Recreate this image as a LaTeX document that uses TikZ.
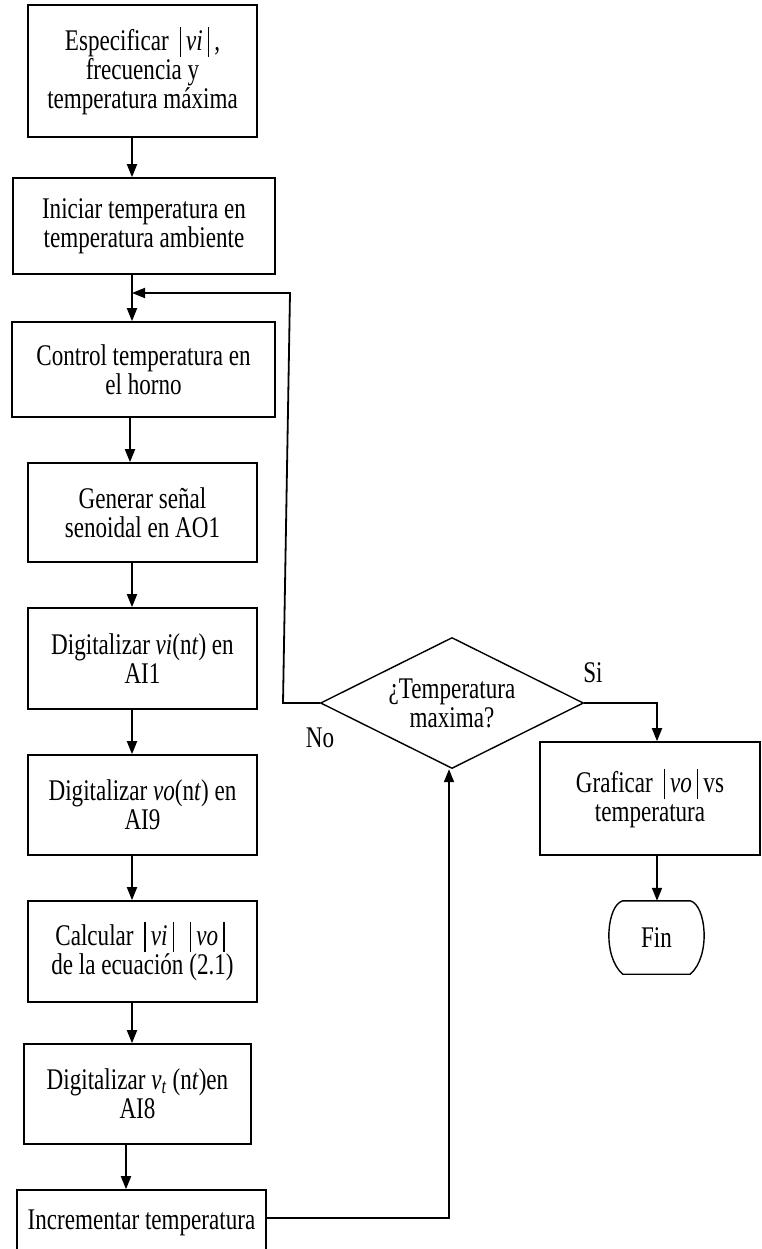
\documentclass[tikz,border=0pt]{standalone}
\usepackage{fontspec}
\setmainfont{Liberation Serif}[FakeStretch=0.77]
\usetikzlibrary{arrows.meta,shapes.geometric}

% absolute-value bars around an italic quantity
\newcommand\absbar{\rule[-0.22em]{0.05em}{1.0em}}
\newcommand\absval[1]{\,\absbar\,\textit{#1}\,\absbar\,}

\tikzset{
  stepbox/.style={draw, line width=1.6pt, inner sep=0pt, align=center},
  flow/.style={line width=1.8pt, -{Triangle[length=13pt,width=10pt]}},
  lbl/.style={inner sep=0pt}
}

\begin{document}
\begin{tikzpicture}[x=1pt, y=-1pt, font=\fontsize{30}{29}\selectfont]
\useasboundingbox (0,0) rectangle (761,1249);

% main column of process steps
\node[stepbox, minimum width=229pt, minimum height=132pt] (b1) at (142.5,71)
  {Especificar \absval{vi},\\ frecuencia y\\ temperatura máxima};
\node[stepbox, minimum width=262pt, minimum height=96pt] (b2) at (144,226)
  {Iniciar temperatura en\\ temperatura ambiente};
\node[stepbox, minimum width=263pt, minimum height=95pt] (b3) at (143.5,369.5)
  {Control temperatura en\\ el horno};
\node[stepbox, minimum width=229pt, minimum height=99pt] (b4) at (142.5,512.5)
  {Generar señal\\ senoidal en AO1};
\node[stepbox, minimum width=229pt, minimum height=101pt] (b5) at (142.5,658.5)
  {Digitalizar \textit{vi}(n\textit{t}) en\\ AI1};
\node[stepbox, minimum width=229pt, minimum height=100pt] (b6) at (142.5,805)
  {Digitalizar \textit{vo}(n\textit{t}) en\\ AI9};
\node[stepbox, minimum width=229pt, minimum height=101pt] (b7) at (142.5,951.5)
  {Calcular \absval{vi}\ \absval{vo}\\ de la ecuación (2.1)};
\node[stepbox, minimum width=227pt, minimum height=100pt] (b8) at (137.5,1094)
  {Digitalizar \textit{v}\textsubscript{\textit{t}} (n\textit{t})en\\ AI8};
\node[stepbox, minimum width=249pt, minimum height=66pt] (b9) at (141.5,1223)
  {Incrementar temperatura};

% decision
\node[diamond, draw, line width=1.4pt, shape aspect=2, inner sep=0pt,
      minimum width=263pt, minimum height=131pt, align=center] (d) at (452,703)
  {¿Temperatura\\ maxima?};

% right branch
\node[stepbox, minimum width=220pt, minimum height=113pt] (g) at (650,798.5)
  {Graficar \absval{vo}vs\\ temperatura};
\node[lbl, minimum width=103pt, minimum height=73pt] (f) at (656.5,937.5) {Fin};
\draw[line width=1.4pt]
  ([xshift=18pt]f.north west) -- ([xshift=-18pt]f.north east)
  .. controls ([xshift=-2pt,yshift=-4pt]f.north east) and ([xshift=3pt,yshift=18pt]f.south east) .. ([xshift=-18pt]f.south east)
  -- ([xshift=18pt]f.south west)
  .. controls ([xshift=-3pt,yshift=18pt]f.south west) and ([xshift=2pt,yshift=-4pt]f.north west) .. ([xshift=18pt]f.north west)
  -- cycle;

% branch labels
\node[lbl] (no) at (320,738) {No};
\node[lbl] (si) at (593,673) {Si};

% connector helpers
\coordinate (xa) at (132,0);
\coordinate (xb) at (130,0);
\coordinate (xc) at (126,0);
\coordinate (xr) at (657,0);
\coordinate (xu) at (449,0);
\coordinate (join) at (132,293);
\coordinate (nolow) at (283,703);
\coordinate (nohigh) at (290,293);

% main flow
\draw[flow] (b1.south -| xa) -- (b2.north -| xa);
\draw[flow] (b2.south -| xa) -- (b3.north -| xa);
\draw[flow] (b3.south -| xb) -- (b4.north -| xb);
\draw[flow] (b4.south -| xa) -- (b5.north -| xa);
\draw[flow] (b5.south -| xa) -- (b6.north -| xa);
\draw[flow] (b6.south -| xa) -- (b7.north -| xa);
\draw[flow] (b7.south -| xa) -- (b8.north -| xa);
\draw[flow] (b8.south -| xc) -- (b9.north -| xc);

% loop back to the decision
\draw[flow] (b9.east |- 0,1218) -- (xu |- 0,1218) -- (d.south -| xu);

% "No": back to the oven control
\draw[flow] (d.west) -- (nolow) -- (nohigh) -- (join);

% "Si": plot and finish
\draw[flow] (d.east) -- (d.east -| xr) -- (g.north -| xr);
\draw[flow] (g.south -| xr) -- (f.north -| xr);
\end{tikzpicture}
\end{document}
